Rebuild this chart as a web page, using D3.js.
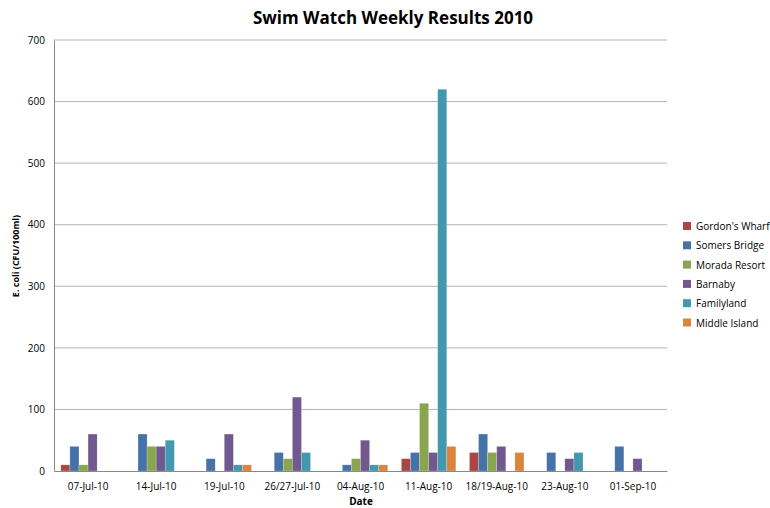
<!DOCTYPE html>
<html><head><meta charset="utf-8">
<script src="https://cdn.jsdelivr.net/npm/d3@7"></script>
<style>body{margin:0;background:#fff;} text{font-family:"Open Sans","Liberation Sans",sans-serif;}</style>
</head><body>
<svg id="c" width="770" height="508"></svg>
<script>
const categories = ["07-Jul-10","14-Jul-10","19-Jul-10","26/27-Jul-10","04-Aug-10","11-Aug-10","18/19-Aug-10","23-Aug-10","01-Sep-10"];
const seriesNames = ["Gordon's Wharf","Somers Bridge","Morada Resort","Barnaby","Familyland","Middle Island"];
const gordonsWharf = [10,null,null,null,null,20,30,null,null];
const somersBridge = [40,60,20,30,10,30,60,30,40];
const moradaResort = [10,40,null,20,20,110,30,null,null];
const barnaby = [60,40,60,120,50,30,40,20,20];
const familyland = [null,50,10,30,10,620,null,30,null];
const middleIsland = [null,null,10,null,10,40,30,null,null];
const yTicks = [0,100,200,300,400,500,600,700];
const colors = ["#AA4643","#4572A7","#89A54E","#71588F","#4198AF","#DB843D"];

const series = [gordonsWharf,somersBridge,moradaResort,barnaby,familyland,middleIsland];
const svg = d3.select("#c");
const L=54,R=667,T=40,B=471;
const x = d3.scaleBand().domain(categories).range([L,R]).paddingInner(0).paddingOuter(0);
const y = d3.scaleLinear().domain([0,700]).range([B,T]);
const bw = x.bandwidth()/(6+1.5);
const xs = d3.scaleBand().domain(d3.range(6)).range([bw*0.75, bw*0.75+bw*6]);

// grid
svg.append("g").selectAll("line").data(yTicks.filter(d=>d>0)).join("line")
  .attr("x1",L).attr("x2",R).attr("y1",d=>y(d)).attr("y2",d=>y(d))
  .attr("stroke","#b3b3b3").attr("stroke-width",1);

// bars
series.forEach((vals,si)=>{
  svg.append("g").selectAll("rect").data(vals.map((v,i)=>({v,c:categories[i]})).filter(d=>d.v!=null)).join("rect")
    .attr("x",d=>x(d.c)+xs(si)).attr("width",xs.bandwidth())
    .attr("y",d=>y(d.v)).attr("height",d=>B-y(d.v))
    .attr("fill",colors[si]).attr("stroke","rgba(255,255,255,0.35)").attr("stroke-width",0.6);
});

// axes
const yAxis = d3.axisLeft(y).tickValues(yTicks).tickSize(0).tickPadding(9);
const gy = svg.append("g").attr("transform",`translate(${L},0)`).call(yAxis);
gy.select(".domain").attr("stroke","#888");
gy.selectAll("text").attr("font-size",10).attr("fill","#000");
const xAxis = d3.axisBottom(x).tickSize(0).tickPadding(12);
const gx = svg.append("g").attr("transform",`translate(0,${B})`).call(xAxis);
gx.select(".domain").attr("stroke","#888");
gx.selectAll("text").attr("font-size",10).attr("fill","#000");

// titles
svg.append("text").attr("x",393).attr("y",24).attr("text-anchor","middle")
  .attr("font-size",17).attr("font-weight","bold").text("Swim Watch Weekly Results 2010");
svg.append("text").attr("x",361).attr("y",505).attr("text-anchor","middle")
  .attr("font-size",10).attr("font-weight","bold").text("Date");
svg.append("text").attr("transform","translate(19,256) rotate(-90)").attr("text-anchor","middle")
  .attr("font-size",9).attr("font-weight","bold").text("E. coli (CFU/100ml)");

// legend
const lg = svg.append("g").selectAll("g").data(seriesNames).join("g")
  .attr("transform",(d,i)=>`translate(683,${222+i*19.3})`);
lg.append("rect").attr("width",8).attr("height",8).attr("fill",(d,i)=>colors[i]);
lg.append("text").attr("x",13).attr("y",8).attr("font-size",10).attr("fill","#000").text(d=>d);
</script>
</body></html>
